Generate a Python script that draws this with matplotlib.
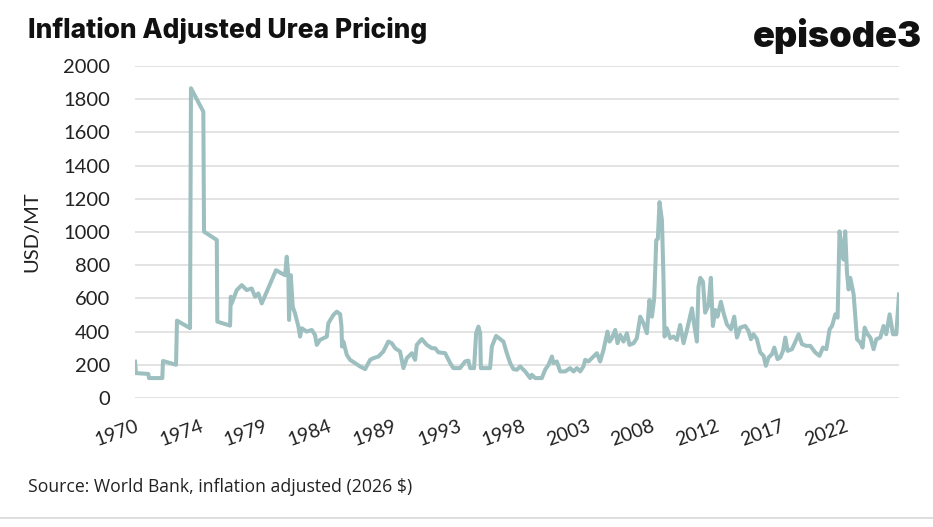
import matplotlib
matplotlib.use("Agg")
import matplotlib.pyplot as plt
from matplotlib.lines import Line2D

# ---- data (decimal year, USD/MT, inflation adjusted) ----
years = [
    1970.00, 1970.07, 1970.98, 1971.03, 1972.01, 1972.06, 1973.02, 1973.09, 1974.05, 1974.12,
    1975.03, 1975.08, 1976.02, 1976.06, 1977.00, 1977.05, 1977.12, 1977.49, 1977.86, 1978.22,
    1978.59, 1978.84, 1979.08, 1979.33, 1979.70, 1980.07, 1980.38, 1980.80, 1981.05, 1981.17,
    1981.29, 1981.34, 1981.47, 1981.61, 1981.78, 1982.03, 1982.15, 1982.28, 1982.64, 1983.01,
    1983.25, 1983.38, 1983.62, 1984.12, 1984.23, 1984.60, 1984.85, 1985.10, 1985.20, 1985.24,
    1985.34, 1985.59, 1985.83, 1986.20, 1986.57, 1986.94, 1987.31, 1987.55, 1987.92, 1988.28,
    1988.65, 1988.90, 1989.15, 1989.51, 1989.76, 1990.01, 1990.38, 1990.62, 1990.74, 1991.11,
    1991.48, 1991.85, 1992.09, 1992.34, 1992.83, 1993.20, 1993.44, 1993.93, 1994.30, 1994.54,
    1994.67, 1994.96, 1995.11, 1995.28, 1995.41, 1995.46, 1996.14, 1996.27, 1996.58, 1996.88,
    1997.12, 1997.37, 1997.62, 1997.86, 1998.11, 1998.35, 1998.72, 1999.09, 1999.21, 1999.46,
    1999.95, 2000.19, 2000.44, 2000.69, 2000.80, 2001.05, 2001.30, 2001.67, 2002.03, 2002.28,
    2002.53, 2002.77, 2003.01, 2003.14, 2003.38, 2003.63, 2004.00, 2004.24, 2004.49, 2004.78,
    2004.93, 2005.10, 2005.35, 2005.52, 2005.72, 2005.96, 2006.21, 2006.40, 2006.70, 2006.94,
    2007.19, 2007.43, 2007.68, 2007.87, 2008.05, 2008.22, 2008.37, 2008.49, 2008.61, 2008.79,
    2008.90, 2008.98, 2009.15, 2009.40, 2009.64, 2009.89, 2010.13, 2010.38, 2010.63, 2011.00,
    2011.11, 2011.36, 2011.48, 2011.61, 2011.81, 2011.97, 2012.22, 2012.39, 2012.54, 2012.71,
    2012.88, 2013.13, 2013.32, 2013.57, 2013.87, 2014.11, 2014.31, 2014.55, 2014.92, 2015.16,
    2015.34, 2015.53, 2015.78, 2016.03, 2016.27, 2016.44, 2016.64, 2016.89, 2017.06, 2017.30,
    2017.50, 2017.70, 2017.87, 2018.04, 2018.36, 2018.53, 2018.85, 2019.10, 2019.41, 2019.71,
    2020.08, 2020.39, 2020.64, 2020.89, 2021.13, 2021.31, 2021.55, 2021.72, 2021.86, 2022.04,
    2022.16, 2022.28, 2022.41, 2022.53, 2022.65, 2022.78, 2022.90, 2023.15, 2023.39, 2023.56,
    2023.71, 2023.93, 2024.13, 2024.37, 2024.57, 2024.86, 2025.10, 2025.30, 2025.55, 2025.80,
    2026.04, 2026.24,
]
prices = [
    219, 150, 145, 120, 120, 223, 200, 466, 421, 1866,
    1725, 1002, 952, 460, 436, 610, 570, 650, 680, 650,
    660, 610, 630, 570, 640, 710, 770, 750, 740, 851,
    730, 470, 740, 550, 510, 430, 370, 420, 400, 410,
    380, 320, 350, 370, 450, 500, 520, 505, 430, 310,
    340, 260, 230, 210, 190, 174, 230, 240, 250, 280,
    340, 330, 300, 280, 180, 240, 270, 230, 320, 355,
    320, 300, 300, 275, 270, 210, 180, 180, 220, 225,
    180, 180, 390, 430, 390, 180, 180, 310, 374, 355,
    340, 270, 210, 174, 170, 190, 160, 120, 140, 120,
    120, 170, 200, 250, 210, 220, 160, 160, 180, 160,
    180, 160, 190, 230, 220, 240, 270, 220, 290, 400,
    340, 360, 410, 330, 380, 340, 390, 320, 330, 360,
    490, 450, 390, 590, 490, 600, 950, 960, 1180, 1070,
    730, 370, 420, 360, 370, 350, 440, 330, 410, 540,
    470, 340, 670, 724, 700, 514, 560, 724, 434, 530,
    490, 580, 514, 444, 414, 490, 364, 424, 434, 404,
    354, 384, 354, 274, 254, 194, 244, 264, 304, 234,
    244, 284, 364, 284, 294, 324, 384, 324, 314, 314,
    274, 254, 304, 294, 414, 434, 504, 484, 1004, 894,
    834, 1004, 754, 654, 724, 674, 624, 354, 334, 304,
    424, 384, 364, 294, 354, 364, 434, 384, 504, 384,
    384, 624,
]

yticks = [0, 200, 400, 600, 800, 1000, 1200, 1400, 1600, 1800, 2000]
xtick_labels = ["1970", "1974", "1979", "1984", "1989", "1993", "1998",
                "2003", "2008", "2012", "2017", "2022"]
xtick_pos = [1970.00, 1974.75, 1979.50, 1984.25, 1989.00, 1993.75, 1998.50,
             2003.25, 2008.00, 2012.75, 2017.50, 2022.25]

title = "Inflation Adjusted Urea Pricing"
ylabel = "USD/MT"
source = "Source: World Bank, inflation adjusted (2026 $)"
brand = "episode3"

# ---- figure ----
W, H = 933, 527
fig = plt.figure(figsize=(W / 100, H / 100), dpi=100)
fig.patch.set_facecolor("white")
ax = fig.add_axes([135 / W, 1 - 398 / H, (899 - 135) / W, (398 - 66) / H])

ax.plot(years, prices, color="#9dbfbf", lw=2.9, solid_joinstyle="round", zorder=3)

ax.set_xlim(1970.0, 2026.24)
ax.set_ylim(0, 2000)
ax.set_yticks(yticks)
ax.set_yticklabels([str(v) for v in yticks])
ax.grid(axis="y", color="#e3e3e3", lw=1.4, zorder=0)
ax.set_axisbelow(True)
for s in ax.spines.values():
    s.set_visible(False)
ax.tick_params(axis="y", length=0, pad=18, labelsize=14.5, labelcolor="#222222")
ax.tick_params(axis="x", length=0, pad=14, labelsize=14, labelcolor="#222222")
ax.set_xticks(xtick_pos)
ax.set_xticklabels(xtick_labels, rotation=20, ha="right", va="top",
                   rotation_mode="anchor")
for lab in ax.get_xticklabels() + ax.get_yticklabels():
    lab.set_fontfamily("Lato")

ax.set_ylabel(ylabel, fontsize=14.5, family="Lato", color="#222222", labelpad=8)
ax.yaxis.set_label_coords(-0.124, 0.5)

fig.text(28 / W, 1 - 30 / H, title, fontsize=19, fontweight="heavy",
         family="Inter", color="#111111", va="center", ha="left")
fig.text(922 / W, 1 - 36 / H, brand, fontsize=26, fontweight="black",
         family="Inter", color="#111111", va="center", ha="right")
fig.text(28 / W, 1 - 487 / H, source, fontsize=12.7, family="Open Sans",
         color="#222222", va="center", ha="left")

fig.add_artist(Line2D([0, 1], [1 - 518 / H, 1 - 518 / H], transform=fig.transFigure,
                      color="#d9d9d9", lw=1.2))

fig.savefig("out.png", dpi=100, facecolor="white")
